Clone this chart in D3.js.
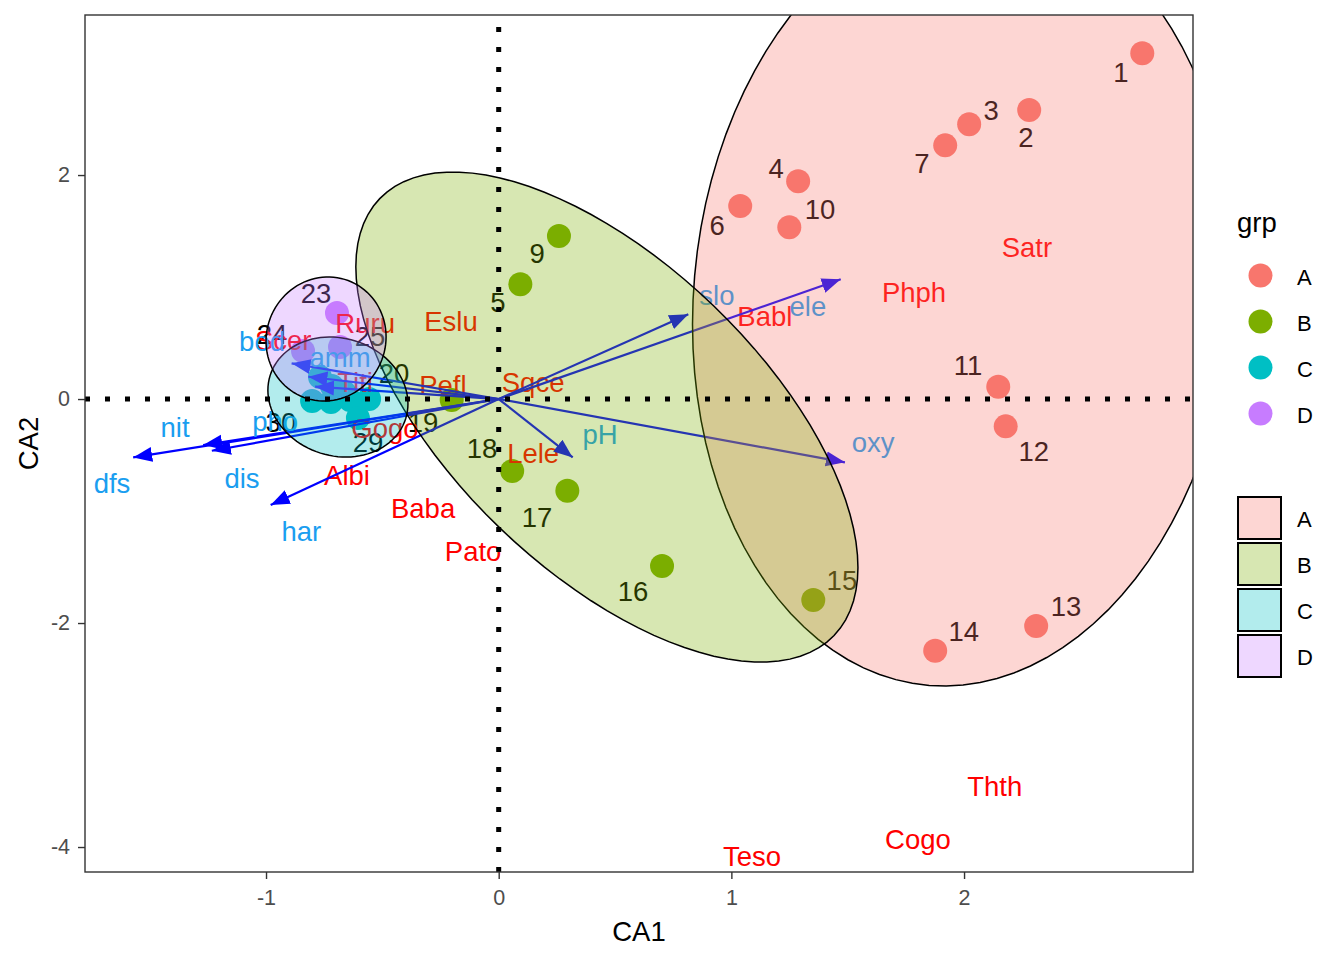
<!DOCTYPE html>
<html>
<head>
<meta charset="utf-8">
<script src="https://cdn.jsdelivr.net/npm/d3@7"></script>
<style>
  body { margin: 0; background: #fff; }
  text { font-family: "Liberation Sans", Arial, sans-serif; }
</style>
</head>
<body>
<script>
// groups and their colours
const groups = ["A", "B", "C", "D"];
const grpColour = ["#F8766D", "#7CAE00", "#00BFC4", "#C77CFF"];

// site scores (CA1, CA2) and group
const siteId  = [1, 2, 3, 7, 4, 6, 10, 11, 12, 13, 14,
                 9, 5, 19, 18, 17, 16, 15,
                 20, 21, 22, 26, 27, 28, 29, 30,
                 23, 24, 25];
const siteGrp = ["A","A","A","A","A","A","A","A","A","A","A",
                 "B","B","B","B","B","B","B",
                 "C","C","C","C","C","C","C","C",
                 "D","D","D"];
const siteCA1 = [2.766, 2.280, 2.022, 1.919, 1.287, 1.038, 1.249, 2.147, 2.179, 2.310, 1.876,
                 0.259, 0.093, -0.202, 0.058, 0.295, 0.702, 1.352,
                 -0.557, -0.665, -0.639, -0.768, -0.717, -0.721, -0.605, -0.802,
                 -0.695, -0.841, -0.682];
const siteCA2 = [3.087, 2.580, 2.453, 2.265, 1.944, 1.723, 1.533, 0.110, -0.244, -2.027, -2.247,
                 1.455, 1.024, -0.009, -0.643, -0.819, -1.491, -1.795,
                 0.000, 0.063, -0.009, 0.196, 0.116, -0.027, -0.170, -0.018,
                 0.768, 0.429, 0.464];
// where the (repelled) site labels ended up; null = label dropped
const siteLabCA1 = [2.674, 2.266, 2.116, 1.819, 1.192, 0.939, 1.381, 2.017, 2.300, 2.438, 1.999,
                    0.165, -0.003, -0.325, -0.072, 0.165, 0.577, 1.475,
                    -0.450, null, null, null, null, null, -0.562, -0.936,
                    -0.785, -0.974, -0.553];
const siteLabCA2 = [2.920, 2.339, 2.580, 2.107, 2.063, 1.554, 1.696, 0.304, -0.464, -1.848, -2.071,
                    1.304, 0.866, -0.205, -0.438, -1.054, -1.714, -1.616,
                    0.232, null, null, null, null, null, -0.384, -0.205,
                    0.946, 0.580, 0.563];

// species scores
const spName = ["Satr", "Phph", "Babl", "Thth", "Cogo", "Teso", "Eslu", "Ruru", "Scer",
                "Pefl", "Sqce", "Titi", "Gogo", "Lele", "Albi", "Baba", "Pato"];
const spCA1  = [2.270, 1.785, 1.144, 2.132, 1.802, 1.089, -0.205, -0.574, -0.926,
                -0.240, 0.148, -0.617, -0.489, 0.148, -0.652, -0.325, -0.110];
const spCA2  = [1.357, 0.955, 0.741, -3.455, -3.929, -4.080, 0.696, 0.679, 0.527,
                0.125, 0.152, 0.152, -0.259, -0.482, -0.679, -0.973, -1.357];

// environmental vectors: arrow tips and label positions
const envName  = ["dfs", "nit", "dis", "har", "pho", "amm", "bod", "slo", "ele", "oxy", "pH"];
const envCA1   = [-1.571, -1.270, -1.233, -0.980, -0.789, -0.818, -0.890, 0.815, 1.470, 1.488, 0.318];
const envCA2   = [-0.521, -0.411, -0.462, -0.946, 0.110, 0.199, 0.319, 0.756, 1.069, -0.565, -0.521];
const envLabCA1 = [-1.662, -1.391, -1.103, -0.848, -0.961, -0.682, -1.017, 0.938, 1.329, 1.609, 0.436];
const envLabCA2 = [-0.750, -0.250, -0.705, -1.179, -0.196, 0.375, 0.518, 0.929, 0.830, -0.384, -0.313];

// group ellipses: centre, half width, half height, x offset of the top point
const ellCx    = [1.996, 0.465, -0.691, -0.742];
const ellCy    = [0.911, -0.161, 0.018, 0.536];
const ellHalfW = [1.163, 1.079, 0.301, 0.258];
const ellHalfH = [3.473, 2.188, 0.536, 0.554];
const ellTopDx = [0.082, -0.662, -0.034, 0.009];

const xTicks = [-1, 0, 1, 2];
const yTicks = [-4, -2, 0, 2];

const width = 1344, height = 960;
const panel = { left: 85, top: 15, right: 1193, bottom: 872 };

const x = d3.scaleLinear().domain([-1.778, 2.984]).range([panel.left, panel.right]);
const y = d3.scaleLinear().domain([-4.223, 3.429]).range([panel.bottom, panel.top]);
const colour = d3.scaleOrdinal().domain(groups).range(grpColour);

const svg = d3.select("body").append("svg")
    .attr("width", width)
    .attr("height", height);

const defs = svg.append("defs");
defs.append("clipPath").attr("id", "panel-clip")
    .append("rect")
    .attr("x", panel.left).attr("y", panel.top)
    .attr("width", panel.right - panel.left)
    .attr("height", panel.bottom - panel.top);

defs.append("marker")
    .attr("id", "head")
    .attr("viewBox", "0 -8 20 16")
    .attr("refX", 19).attr("refY", 0)
    .attr("markerWidth", 20).attr("markerHeight", 16)
    .attr("markerUnits", "userSpaceOnUse")
    .attr("orient", "auto")
    .append("path")
    .attr("d", "M0,-7.5L19,0L0,7.5Z")
    .attr("fill", "#0000FF");

const g = svg.append("g").attr("clip-path", "url(#panel-clip)");

// site points
const sites = siteId.map((id, i) => ({
    id, grp: siteGrp[i], x: siteCA1[i], y: siteCA2[i], lx: siteLabCA1[i], ly: siteLabCA2[i]
}));

g.append("g").selectAll("circle")
    .data(sites)
    .enter().append("circle")
    .attr("cx", d => x(d.x))
    .attr("cy", d => y(d.y))
    .attr("r", 12)
    .attr("fill", d => colour(d.grp));

g.append("g").selectAll("text")
    .data(sites.filter(d => d.lx !== null))
    .enter().append("text")
    .attr("x", d => x(d.lx))
    .attr("y", d => y(d.ly))
    .attr("dy", "0.36em")
    .attr("text-anchor", "middle")
    .attr("font-size", 27.5)
    .attr("fill", "#000")
    .text(d => d.id);

// species names
g.append("g").selectAll("text")
    .data(spName)
    .enter().append("text")
    .attr("x", (d, i) => x(spCA1[i]))
    .attr("y", (d, i) => y(spCA2[i]))
    .attr("dy", "0.36em")
    .attr("text-anchor", "middle")
    .attr("font-size", 27.5)
    .attr("fill", "#FF0000")
    .text(d => d);

// environmental arrows
g.append("g").selectAll("line")
    .data(envName)
    .enter().append("line")
    .attr("x1", x(0)).attr("y1", y(0))
    .attr("x2", (d, i) => x(envCA1[i]))
    .attr("y2", (d, i) => y(envCA2[i]))
    .attr("stroke", "#0000FF")
    .attr("stroke-width", 2.2)
    .attr("marker-end", "url(#head)");

g.append("g").selectAll("text")
    .data(envName)
    .enter().append("text")
    .attr("x", (d, i) => x(envLabCA1[i]))
    .attr("y", (d, i) => y(envLabCA2[i]))
    .attr("dy", "0.36em")
    .attr("text-anchor", "middle")
    .attr("font-size", 27.5)
    .attr("fill", "#1A9EF0")
    .text(d => d);

// ellipses
function ellipse(i) {
    const a = ellHalfW[i], b = ellHalfH[i];
    const k = ellTopDx[i] * b / a;
    const m = Math.sqrt(b * b - k * k);
    return d3.range(0, 101).map(j => {
        const t = j / 100 * 2 * Math.PI;
        return [ellCx[i] + a * Math.cos(t), ellCy[i] + k * Math.cos(t) + m * Math.sin(t)];
    });
}
const line = d3.line().x(d => x(d[0])).y(d => y(d[1]));

g.append("g").selectAll("path")
    .data(groups)
    .enter().append("path")
    .attr("d", (d, i) => line(ellipse(i)) + "Z")
    .attr("fill", d => colour(d))
    .attr("fill-opacity", 0.3)
    .attr("stroke", "#000")
    .attr("stroke-width", 1.5);

// dotted origin lines
g.append("line")
    .attr("x1", panel.left).attr("x2", panel.right)
    .attr("y1", y(0)).attr("y2", y(0))
    .attr("stroke", "#000").attr("stroke-width", 5)
    .attr("stroke-dasharray", "5,15");
g.append("line")
    .attr("x1", x(0)).attr("x2", x(0))
    .attr("y1", panel.bottom).attr("y2", panel.top)
    .attr("stroke", "#000").attr("stroke-width", 5)
    .attr("stroke-dasharray", "5,15");

// panel border
svg.append("rect")
    .attr("x", panel.left).attr("y", panel.top)
    .attr("width", panel.right - panel.left)
    .attr("height", panel.bottom - panel.top)
    .attr("fill", "none")
    .attr("stroke", "#333333")
    .attr("stroke-width", 1.4);

// axes
const xAxis = svg.append("g")
    .attr("transform", `translate(0,${panel.bottom})`)
    .call(d3.axisBottom(x).tickValues(xTicks).tickFormat(d => String(d))
        .tickSize(7).tickSizeOuter(0).tickPadding(11));
const yAxis = svg.append("g")
    .attr("transform", `translate(${panel.left},0)`)
    .call(d3.axisLeft(y).tickValues(yTicks).tickFormat(d => String(d))
        .tickSize(7).tickSizeOuter(0).tickPadding(8));
[xAxis, yAxis].forEach(ax => {
    ax.select(".domain").remove();
    ax.selectAll(".tick line").attr("stroke", "#333333").attr("stroke-width", 1.4);
    ax.selectAll(".tick text")
        .attr("fill", "#4D4D4D")
        .attr("font-size", 21.5)
        .attr("font-family", '"Liberation Sans", Arial, sans-serif');
});

svg.append("text")
    .attr("x", (panel.left + panel.right) / 2)
    .attr("y", 941)
    .attr("text-anchor", "middle")
    .attr("font-size", 27.5)
    .text("CA1");
svg.append("text")
    .attr("transform", `translate(38,${(panel.top + panel.bottom) / 2}) rotate(-90)`)
    .attr("text-anchor", "middle")
    .attr("font-size", 27.5)
    .text("CA2");

// legends
const leg = svg.append("g");
leg.append("text")
    .attr("x", 1237).attr("y", 232)
    .attr("font-size", 27.5)
    .text("grp");

leg.selectAll("circle.key")
    .data(groups)
    .enter().append("circle")
    .attr("class", "key")
    .attr("cx", 1260.5)
    .attr("cy", (d, i) => 275.5 + i * 46)
    .attr("r", 12)
    .attr("fill", d => colour(d));

leg.selectAll("text.key1")
    .data(groups)
    .enter().append("text")
    .attr("class", "key1")
    .attr("x", 1297)
    .attr("y", (d, i) => 277.5 + i * 46)
    .attr("dy", "0.36em")
    .attr("font-size", 22)
    .text(d => d);

leg.selectAll("rect.key")
    .data(groups)
    .enter().append("rect")
    .attr("class", "key")
    .attr("x", 1238)
    .attr("y", (d, i) => 497 + i * 46)
    .attr("width", 43)
    .attr("height", 42)
    .attr("fill", d => colour(d))
    .attr("fill-opacity", 0.3)
    .attr("stroke", "#000")
    .attr("stroke-width", 2);

leg.selectAll("text.key2")
    .data(groups)
    .enter().append("text")
    .attr("class", "key2")
    .attr("x", 1297)
    .attr("y", (d, i) => 519 + i * 46)
    .attr("dy", "0.36em")
    .attr("font-size", 22)
    .text(d => d);
</script>
</body>
</html>
